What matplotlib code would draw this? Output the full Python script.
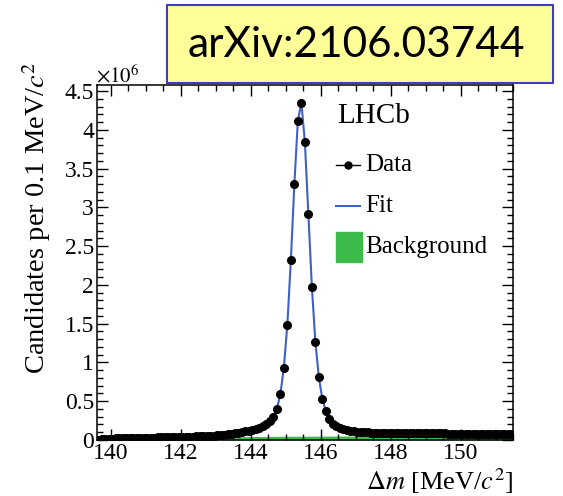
import matplotlib
matplotlib.use('Agg')
import matplotlib.pyplot as plt
import matplotlib.patches as mpatches
from matplotlib.lines import Line2D
from matplotlib.ticker import MultipleLocator, FormatStrFormatter
import numpy as np

plt.rcParams['font.family'] = ['Liberation Serif', 'DejaVu Serif']
plt.rcParams['mathtext.fontset'] = 'stix'

# Delta m bin centres (0.1 MeV bins)
bin_centers = np.round(np.arange(139.65, 151.5, 0.1), 2)

# candidates per bin, in units of 10^6
counts = [
    0.004, 0.010, 0.014, 0.017,
    0.019, 0.021, 0.022, 0.023, 0.024, 0.025, 0.026, 0.027, 0.028, 0.029,
    0.030, 0.031, 0.032, 0.033, 0.034, 0.035, 0.036, 0.037, 0.038, 0.039,
    0.040, 0.041, 0.043, 0.044, 0.046, 0.048, 0.050, 0.052, 0.055, 0.058,
    0.062, 0.066, 0.070, 0.075, 0.081, 0.088, 0.095, 0.103, 0.111, 0.120,
    0.130, 0.142, 0.157, 0.176, 0.200, 0.240, 0.300, 0.400, 0.590, 0.935,
    1.49, 2.32, 3.30, 4.12, 4.35, 3.85, 2.92, 1.98, 1.27, 0.81,
    0.53, 0.37, 0.27, 0.21, 0.18, 0.155, 0.138, 0.127, 0.118, 0.112,
    0.107, 0.103, 0.100, 0.098, 0.096, 0.094, 0.093, 0.092, 0.091, 0.090,
    0.089, 0.089, 0.088, 0.088, 0.087, 0.087, 0.087, 0.086, 0.086, 0.086,
    0.085, 0.085, 0.085, 0.084, 0.084, 0.084, 0.083, 0.083, 0.083, 0.083,
    0.082, 0.082, 0.082, 0.081, 0.081, 0.081, 0.081, 0.080, 0.080, 0.080,
    0.080, 0.080, 0.079, 0.079, 0.079,
]

# background component (10^6)
bkg_x = [139.6, 140.0, 140.5, 141.0, 141.5, 142.0, 142.5, 143.0, 143.5,
         144.0, 144.5, 145.0, 145.5, 146.0, 146.5, 147.0, 147.5, 148.0,
         148.5, 149.0, 149.5, 150.0, 150.5, 151.0, 151.5]
bkg_y = [0.000, 0.015, 0.022, 0.027, 0.031, 0.034, 0.037, 0.040, 0.042,
         0.044, 0.046, 0.048, 0.049, 0.050, 0.051, 0.052, 0.053, 0.054,
         0.055, 0.056, 0.057, 0.058, 0.058, 0.059, 0.060]

W, H = 563, 496
BLUE = '#4060c8'
GREEN = '#3cba4a'


def fpos(x, y):
    # pixel position -> figure fraction
    return x / W, 1 - y / H


fig = plt.figure(figsize=(W / 100, H / 100), dpi=100)
ax = fig.add_axes([96.7 / W, 1 - 440 / H, (513 - 96.7) / W, (440 - 85) / H])

ax.fill_between(bkg_x, 0, bkg_y, color=GREEN, lw=0, zorder=1)
ax.plot(bin_centers, counts, color=BLUE, lw=1.5, zorder=2)
ax.plot(bin_centers, counts, 'o', color='black', ms=5.5, zorder=3)

ax.set_xlim(139.6, 151.5)
ax.set_ylim(0, 4.58)
ax.xaxis.set_major_locator(MultipleLocator(2))
ax.xaxis.set_minor_locator(MultipleLocator(0.5))
ax.yaxis.set_major_locator(MultipleLocator(0.5))
ax.yaxis.set_minor_locator(MultipleLocator(0.1))
ax.yaxis.set_major_formatter(FormatStrFormatter('%g'))
ax.tick_params(which='both', direction='in', top=True, right=True,
               width=1, labelsize=17, pad=2)
ax.tick_params(which='major', length=8)
ax.tick_params(which='minor', length=4)
for s in ax.spines.values():
    s.set_linewidth(1.1)

# axis titles, ROOT style
fig.text(*fpos(37, 62), 'Candidates per 0.1 MeV/$c^2$', rotation=90,
         ha='center', va='top', fontsize=20.5)
fig.text(*fpos(514, 490), r'$\Delta m$ [MeV/$c^2$]', ha='right',
         va='baseline', fontsize=19)
fig.text(*fpos(96, 82), r'$\times10^{6}$', ha='left', va='baseline',
         fontsize=15)

# legend drawn by hand
fig.text(*fpos(337, 116), 'LHCb', ha='left', va='center', fontsize=21)
fig.add_artist(Line2D([336 / W, 360 / W], [1 - 165 / H, 1 - 165 / H],
                      color='black', lw=1, marker='', transform=fig.transFigure))
fig.add_artist(Line2D([348 / W], [1 - 165 / H], color='black', marker='o',
                      ms=5, transform=fig.transFigure))
fig.text(*fpos(365, 165), 'Data', ha='left', va='center', fontsize=18)
fig.add_artist(Line2D([336 / W, 360 / W], [1 - 206 / H, 1 - 206 / H],
                      color=BLUE, lw=1.5, transform=fig.transFigure))
fig.text(*fpos(365, 206), 'Fit', ha='left', va='center', fontsize=18)
fig.add_artist(mpatches.Rectangle(fpos(336, 262), 26 / W, 30 / H,
                                  color=GREEN, transform=fig.transFigure))
fig.text(*fpos(365, 247), 'Background', ha='left', va='center', fontsize=18)

# arXiv label box
fig.add_artist(mpatches.Rectangle(fpos(167, 83), (553 - 167) / W, 78 / H,
                                  facecolor='#ffff99', edgecolor='#3c3cc8',
                                  lw=1.5, transform=fig.transFigure, zorder=5))
fig.text(*fpos(356, 45), 'arXiv:2106.03744', ha='center', va='center',
         fontsize=30.5, family='Lato', zorder=6)

fig.savefig('out.png', dpi=100, facecolor='white')
